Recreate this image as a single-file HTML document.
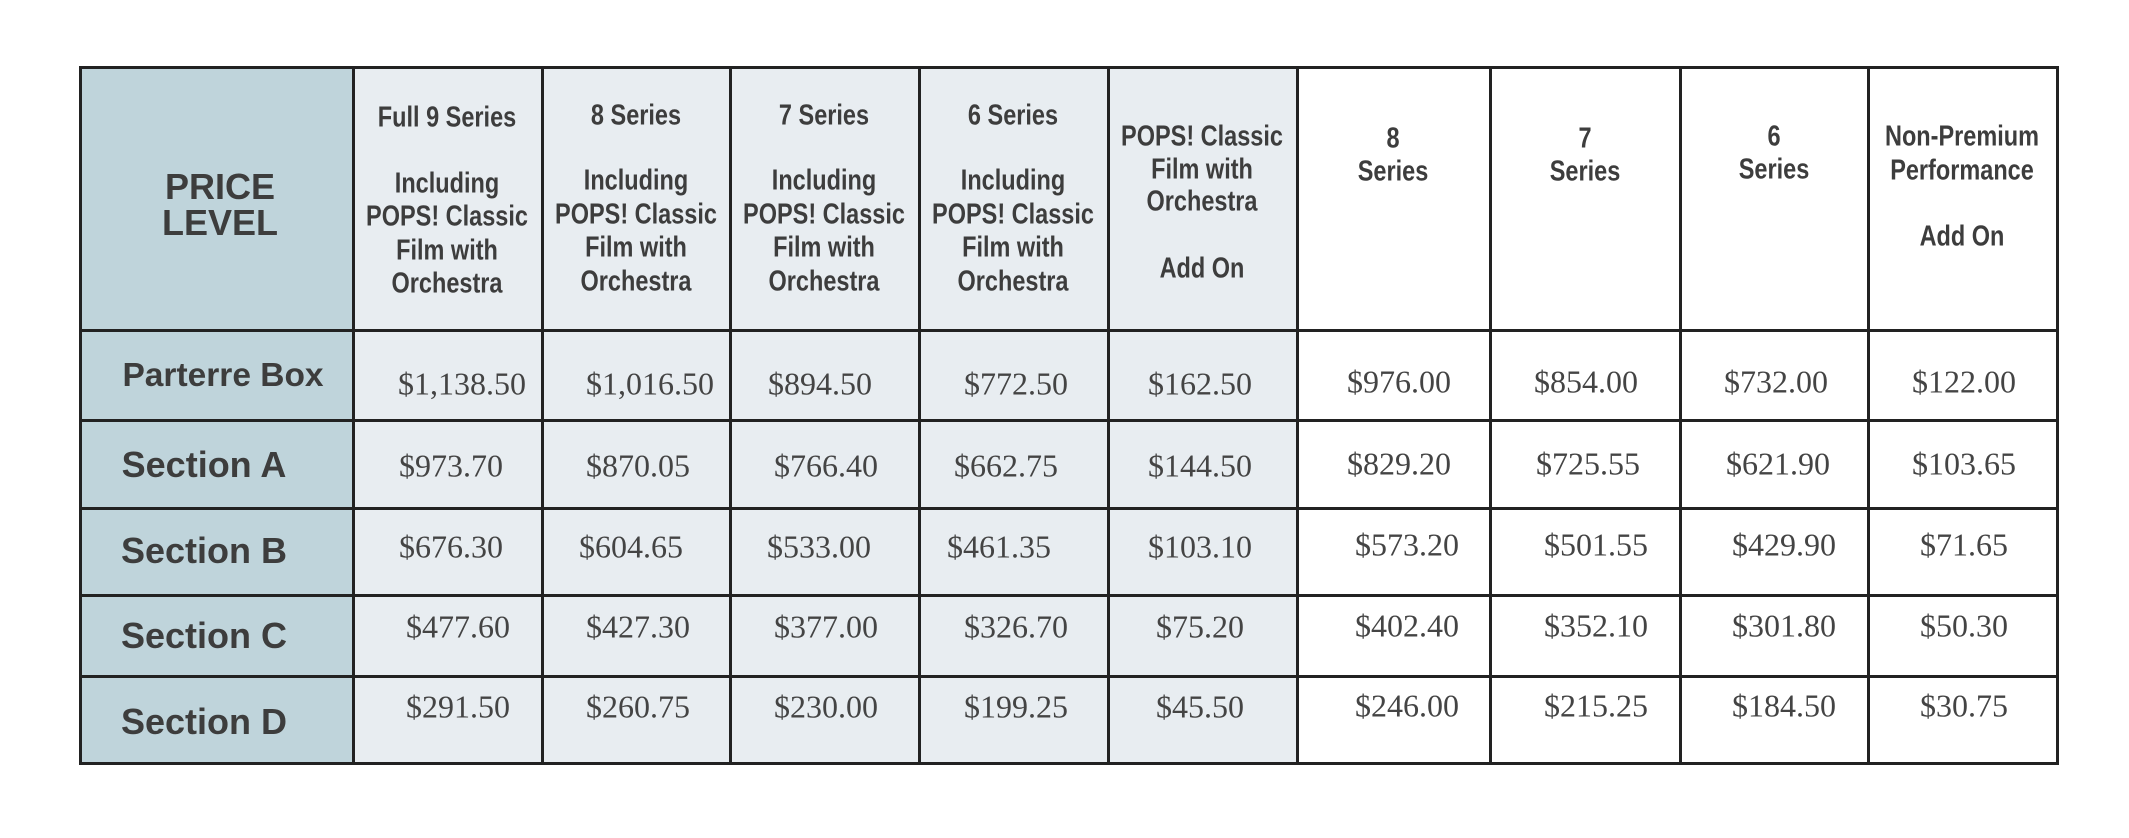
<!DOCTYPE html>
<html><head><meta charset="utf-8">
<style>
html,body{margin:0;padding:0;background:#fff;}
#c{position:relative;width:2129px;height:838px;overflow:hidden;background:#fff;}
.bg{position:absolute;}
.v{position:absolute;width:3px;background:#222;}
.h{position:absolute;height:3px;background:#222;}
.t{position:absolute;white-space:nowrap;color:#3d3d3d;transform:translate(-50%,-50%);}
.hd{font-family:"Liberation Sans",sans-serif;font-weight:bold;font-size:29px;transform:translate(-50%,-50%) scaleX(0.81);}
.lab{font-family:"Liberation Sans",sans-serif;font-weight:bold;font-size:36px;}
.p{font-family:"Liberation Serif",serif;font-size:32px;color:#444;}
</style></head><body><div id="c">
<div class="bg" style="left:80px;top:67px;width:273px;height:696px;background:#bfd4db"></div>
<div class="bg" style="left:353px;top:67px;width:944px;height:696px;background:#e8edf1"></div>

<div class="v" style="left:79px;top:66px;height:698px"></div>
<div class="v" style="left:352px;top:66px;height:698px"></div>
<div class="v" style="left:541px;top:66px;height:698px"></div>
<div class="v" style="left:729px;top:66px;height:698px"></div>
<div class="v" style="left:918px;top:66px;height:698px"></div>
<div class="v" style="left:1107px;top:66px;height:698px"></div>
<div class="v" style="left:1296px;top:66px;height:698px"></div>
<div class="v" style="left:1489px;top:66px;height:698px"></div>
<div class="v" style="left:1679px;top:66px;height:698px"></div>
<div class="v" style="left:1867px;top:66px;height:698px"></div>
<div class="v" style="left:2056px;top:66px;height:698px"></div>
<div class="h" style="left:79px;top:66px;width:1980px"></div>
<div class="h" style="left:79px;top:329px;width:1980px"></div>
<div class="h" style="left:79px;top:419px;width:1980px"></div>
<div class="h" style="left:79px;top:507px;width:1980px"></div>
<div class="h" style="left:79px;top:594px;width:1980px"></div>
<div class="h" style="left:79px;top:675px;width:1980px"></div>
<div class="h" style="left:79px;top:762px;width:1980px"></div>

<div class="t lab" style="left:220px;top:187px;font-size:36px">PRICE</div>
<div class="t lab" style="left:220px;top:223px;font-size:36px">LEVEL</div>

<div class="t hd" style="left:447px;top:118px">Full 9 Series</div>
<div class="t hd" style="left:447px;top:184px">Including</div>
<div class="t hd" style="left:447px;top:217px">POPS! Classic</div>
<div class="t hd" style="left:447px;top:251px">Film with</div>
<div class="t hd" style="left:447px;top:284px">Orchestra</div>

<div class="t hd" style="left:636px;top:116px">8 Series</div>
<div class="t hd" style="left:636px;top:181px">Including</div>
<div class="t hd" style="left:636px;top:215px">POPS! Classic</div>
<div class="t hd" style="left:636px;top:248px">Film with</div>
<div class="t hd" style="left:636px;top:282px">Orchestra</div>

<div class="t hd" style="left:824px;top:116px">7 Series</div>
<div class="t hd" style="left:824px;top:181px">Including</div>
<div class="t hd" style="left:824px;top:215px">POPS! Classic</div>
<div class="t hd" style="left:824px;top:248px">Film with</div>
<div class="t hd" style="left:824px;top:282px">Orchestra</div>

<div class="t hd" style="left:1013px;top:116px">6 Series</div>
<div class="t hd" style="left:1013px;top:181px">Including</div>
<div class="t hd" style="left:1013px;top:215px">POPS! Classic</div>
<div class="t hd" style="left:1013px;top:248px">Film with</div>
<div class="t hd" style="left:1013px;top:282px">Orchestra</div>

<div class="t hd" style="left:1202px;top:137px">POPS! Classic</div>
<div class="t hd" style="left:1202px;top:170px">Film with</div>
<div class="t hd" style="left:1202px;top:202px">Orchestra</div>
<div class="t hd" style="left:1202px;top:269px">Add On</div>

<div class="t hd" style="left:1393px;top:139px">8</div>
<div class="t hd" style="left:1393px;top:172px">Series</div>
<div class="t hd" style="left:1585px;top:139px">7</div>
<div class="t hd" style="left:1585px;top:172px">Series</div>
<div class="t hd" style="left:1774px;top:137px">6</div>
<div class="t hd" style="left:1774px;top:170px">Series</div>
<div class="t hd" style="left:1962px;top:137px">Non-Premium</div>
<div class="t hd" style="left:1962px;top:171px">Performance</div>
<div class="t hd" style="left:1962px;top:237px">Add On</div>

<div class="t lab" style="left:223px;top:376px;font-size:33.5px">Parterre Box</div>
<div class="t lab" style="left:204px;top:465px">Section A</div>
<div class="t lab" style="left:204px;top:551px">Section B</div>
<div class="t lab" style="left:204px;top:636px">Section C</div>
<div class="t lab" style="left:204px;top:722px">Section D</div>

<div class="t p" style="left:462px;top:384px">$1,138.50</div>
<div class="t p" style="left:650px;top:384px">$1,016.50</div>
<div class="t p" style="left:820px;top:384px">$894.50</div>
<div class="t p" style="left:1016px;top:384px">$772.50</div>
<div class="t p" style="left:1200px;top:384px">$162.50</div>
<div class="t p" style="left:1399px;top:382px">$976.00</div>
<div class="t p" style="left:1586px;top:382px">$854.00</div>
<div class="t p" style="left:1776px;top:382px">$732.00</div>
<div class="t p" style="left:1964px;top:382px">$122.00</div>

<div class="t p" style="left:451px;top:466px">$973.70</div>
<div class="t p" style="left:638px;top:466px">$870.05</div>
<div class="t p" style="left:826px;top:466px">$766.40</div>
<div class="t p" style="left:1006px;top:466px">$662.75</div>
<div class="t p" style="left:1200px;top:466px">$144.50</div>
<div class="t p" style="left:1399px;top:464px">$829.20</div>
<div class="t p" style="left:1588px;top:464px">$725.55</div>
<div class="t p" style="left:1778px;top:464px">$621.90</div>
<div class="t p" style="left:1964px;top:464px">$103.65</div>

<div class="t p" style="left:451px;top:547px">$676.30</div>
<div class="t p" style="left:631px;top:547px">$604.65</div>
<div class="t p" style="left:819px;top:547px">$533.00</div>
<div class="t p" style="left:999px;top:547px">$461.35</div>
<div class="t p" style="left:1200px;top:547px">$103.10</div>
<div class="t p" style="left:1407px;top:545px">$573.20</div>
<div class="t p" style="left:1596px;top:545px">$501.55</div>
<div class="t p" style="left:1784px;top:545px">$429.90</div>
<div class="t p" style="left:1964px;top:545px">$71.65</div>

<div class="t p" style="left:458px;top:627px">$477.60</div>
<div class="t p" style="left:638px;top:627px">$427.30</div>
<div class="t p" style="left:826px;top:627px">$377.00</div>
<div class="t p" style="left:1016px;top:627px">$326.70</div>
<div class="t p" style="left:1200px;top:627px">$75.20</div>
<div class="t p" style="left:1407px;top:626px">$402.40</div>
<div class="t p" style="left:1596px;top:626px">$352.10</div>
<div class="t p" style="left:1784px;top:626px">$301.80</div>
<div class="t p" style="left:1964px;top:626px">$50.30</div>

<div class="t p" style="left:458px;top:707px">$291.50</div>
<div class="t p" style="left:638px;top:707px">$260.75</div>
<div class="t p" style="left:826px;top:707px">$230.00</div>
<div class="t p" style="left:1016px;top:707px">$199.25</div>
<div class="t p" style="left:1200px;top:707px">$45.50</div>
<div class="t p" style="left:1407px;top:706px">$246.00</div>
<div class="t p" style="left:1596px;top:706px">$215.25</div>
<div class="t p" style="left:1784px;top:706px">$184.50</div>
<div class="t p" style="left:1964px;top:706px">$30.75</div>
</div></body></html>
